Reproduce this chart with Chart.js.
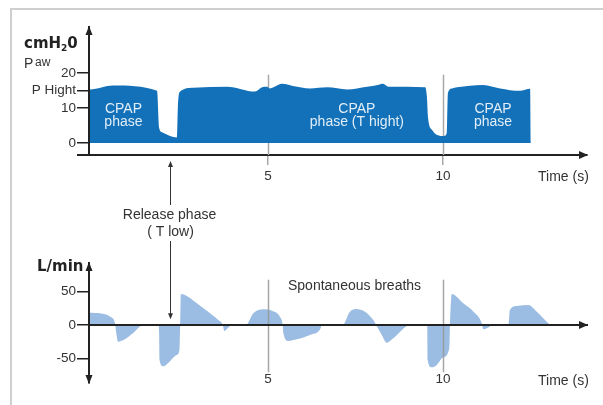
<!DOCTYPE html>
<html><head><meta charset="utf-8">
<script src="https://cdn.jsdelivr.net/npm/chart.js@4/dist/chart.umd.min.js"></script>
<style>
html,body{margin:0;padding:0;background:#fff;width:603px;height:405px;overflow:hidden;}
#frame{position:absolute;left:10px;top:8px;width:700px;height:500px;border-left:2px solid #cfcfcf;border-top:2px solid #cfcfcf;}
canvas{position:absolute;left:0;top:0;}
</style></head><body>
<div id="frame"></div>
<canvas id="c1" width="603" height="405"></canvas>
<canvas id="c2" width="603" height="405"></canvas>
<script>
// ---- data ----
const X_TICKS = [5, 10];
const P_TICKS = [0, 10, 15, 20];
const P_TICK_LABELS = ['0', '10', 'P Hight', '20'];
const F_TICKS = [-50, 0, 50];
const F_TICK_LABELS = ['-50', '0', '50'];

const PRESS_T = [-0.09, -0.09, 0.57, 1.83, 1.89, 1.97, 2.40, 2.43, 2.49, 2.86, 3.83, 4.63, 4.83, 4.97, 5.06, 5.40, 5.71, 6.20, 6.69, 7.26, 7.83, 8.14, 8.29, 8.43, 9.49, 9.54, 9.57, 9.69, 9.83, 10.03, 10.11, 10.14, 10.26, 10.40, 11.14, 11.63, 12.20, 12.49, 12.51];
const PRESS   = [0, 15.3, 16.4, 14.9, 4.3, 3.1, 1.6, 11.4, 14.7, 15.8, 16.1, 14.7, 15.9, 16.1, 15.6, 16.9, 16.3, 15.6, 15.9, 15.3, 16.1, 16.6, 16.9, 16.1, 15.9, 13.2, 7.5, 3.7, 2.3, 2.0, 2.9, 14.3, 15.6, 15.9, 16.6, 15.6, 14.9, 15.5, 0];

const FLOW_T = [-0.09, 0.20, 0.49, 0.63, 0.66, 0.72, 0.91, 1.14, 1.43, 1.87, 1.89, 1.90, 2.01, 2.15, 2.39, 2.47, 2.49, 2.51, 2.68, 2.91, 3.29, 3.58, 3.71, 3.75, 3.89, 3.97, 4.37, 4.58, 4.87, 5.11, 5.34, 5.42, 5.44, 5.58, 5.82, 6.20, 6.49, 6.54, 7.13, 7.34, 7.53, 7.77, 8.01, 8.09, 8.25, 8.39, 8.58, 9.06, 9.55, 9.56, 9.68, 9.82, 10.01, 10.18, 10.20, 10.25, 10.58, 10.87, 11.11, 11.15, 11.25, 11.44, 11.87, 11.91, 12.11, 12.44, 12.68, 13.01, 13.06];
const FLOW   = [18.5, 17.5, 12.5, 2.5, -10, -25, -21.5, -12.5, 0, 0, -12, -52, -62, -57, -45, -37.5, 0, 46.5, 43.5, 35, 20, 7.5, 0, -9, -2.5, 0, 0, 17.5, 23.5, 21.5, 12.5, 0, -12.5, -24, -21.5, -15, -6.5, 0, 0, 20, 24, 20, 7.5, 0, -15, -26.5, -20, 0, 0, -52.5, -63.5, -60, -48.5, -35, 0, 46.5, 32.5, 20, 2.5, -6.5, -5, 0, 0, 22.5, 28.5, 30, 20, 2.5, 0];

const X_MIN = -0.114, X_MAX = 14.114;

// ---- styling ----
const FONT = '"Liberation Sans", Arial, Helvetica, sans-serif';
const BOLD = '"DejaVu Sans", "Liberation Sans", Arial, sans-serif';
const AX = '#222';
const TXT = '#333';
const LBL = '14px ' + FONT;
Chart.defaults.font.family = FONT;
Chart.defaults.font.size = 13.5;
Chart.defaults.color = TXT;

function tri(ctx, a, b, c) {
  ctx.beginPath(); ctx.moveTo(a[0], a[1]); ctx.lineTo(b[0], b[1]); ctx.lineTo(c[0], c[1]); ctx.closePath(); ctx.fill();
}
function vline(ctx, x, y1, y2, color, w) {
  ctx.save(); ctx.strokeStyle = color; ctx.lineWidth = w;
  ctx.beginPath(); ctx.moveTo(x, y1); ctx.lineTo(x, y2); ctx.stroke(); ctx.restore();
}
function txt(ctx, s, x, y, font, color, align) {
  ctx.save(); ctx.font = font; ctx.fillStyle = color; ctx.textAlign = align || 'left'; ctx.textBaseline = 'middle';
  ctx.fillText(s, x, y); ctx.restore();
}

const pts = (xs, ys) => xs.map((t, i) => ({x: t, y: ys[i]}));

// ---- top chart: airway pressure ----
const topDeco = {
  id: 'topDeco',
  beforeDatasetsDraw(chart) {
    const {ctx, scales: {x, y}, chartArea} = chart;
    X_TICKS.forEach(v => {
      const px = Math.round(x.getPixelForValue(v)) + 0.5;
      vline(ctx, px, y.getPixelForValue(19.5), chartArea.bottom, '#a8a8a8', 1.5);
    });
  },
  afterDraw(chart) {
    const {ctx, scales: {x, y}, chartArea: ca} = chart;
    ctx.save();
    ctx.fillStyle = AX; ctx.strokeStyle = AX; ctx.lineWidth = 2;
    ctx.beginPath(); ctx.moveTo(ca.left - 12, ca.bottom); ctx.lineTo(ca.left, ca.bottom); ctx.stroke();
    tri(ctx, [ca.left, ca.top - 1], [ca.left - 3.5, ca.top + 8], [ca.left + 3.5, ca.top + 8]);
    tri(ctx, [ca.right + 1, ca.bottom], [ca.right - 8, ca.bottom - 4], [ca.right - 8, ca.bottom + 4]);
    ctx.textBaseline = 'alphabetic'; ctx.textAlign = 'left';
    ctx.font = 'bold 15px ' + BOLD;
    let xx = 24; ctx.fillText('cmH', xx, 48); xx += ctx.measureText('cmH').width;
    ctx.font = 'bold 9px ' + BOLD; ctx.fillText('2', xx, 51); xx += ctx.measureText('2').width;
    ctx.font = 'bold 15px ' + BOLD; ctx.fillText('0', xx, 48);
    ctx.fillStyle = TXT;
    ctx.font = '14px ' + FONT; ctx.fillText('P', 24, 68);
    ctx.font = '12px ' + FONT; ctx.fillText('aw', 35, 66);
    ctx.restore();
    txt(ctx, 'Time (s)', 538, 177, LBL, TXT);
    const wc = 'rgba(255,255,255,0.88)', f = '14px ' + FONT;
    [[0.87, 'CPAP', 'phase'], [7.54, 'CPAP', 'phase (T hight)'], [11.43, 'CPAP', 'phase']].forEach(([t, a, b]) => {
      const px = x.getPixelForValue(t);
      txt(ctx, a, px, y.getPixelForValue(9.7), f, wc, 'center');
      txt(ctx, b, px, y.getPixelForValue(6.0), f, wc, 'center');
    });
  }
};

new Chart(document.getElementById('c1'), {
  type: 'line',
  data: { datasets: [{ data: pts(PRESS_T, PRESS), fill: 'origin', backgroundColor: '#1271b9',
    borderWidth: 0, pointRadius: 0, cubicInterpolationMode: 'monotone' }] },
  options: {
    responsive: false, animation: false, devicePixelRatio: 1,
    layout: { padding: { left: 0, right: 16, top: 27, bottom: 210 } },
    plugins: { legend: { display: false }, tooltip: { enabled: false } },
    scales: {
      x: { type: 'linear', min: X_MIN, max: X_MAX, position: 'bottom',
        afterBuildTicks: s => { s.ticks = X_TICKS.map(v => ({value: v})); },
        afterFit: s => { s.height = 40; },
        ticks: { padding: 3, maxRotation: 0, autoSkip: false, color: TXT },
        grid: { drawOnChartArea: false, drawTicks: true, tickLength: 10, color: '#a8a8a8', lineWidth: 1.5 },
        border: { display: true, color: AX, width: 2 } },
      y: { type: 'linear', min: -3.43, max: 33.14,
        afterBuildTicks: s => { s.ticks = P_TICKS.map(v => ({value: v})); },
        afterFit: s => { s.width = 89; },
        ticks: { padding: 1, color: TXT, callback: v => P_TICK_LABELS[P_TICKS.indexOf(v)] },
        grid: { drawOnChartArea: false, tickLength: 12, color: AX, lineWidth: 1.5 },
        border: { color: AX, width: 2 } }
    }
  },
  plugins: [topDeco]
});

// ---- bottom chart: flow ----
const botDeco = {
  id: 'botDeco',
  afterDatasetsDraw(chart) {
    const {ctx, scales: {x, y}} = chart;
    X_TICKS.forEach(v => {
      const px = Math.round(x.getPixelForValue(v)) + 0.5;
      vline(ctx, px, y.getPixelForValue(68), y.getPixelForValue(-71), 'rgba(150,150,150,0.85)', 1.5);
    });
  },
  afterDraw(chart) {
    const {ctx, scales: {x, y}, chartArea: ca} = chart;
    const y0 = y.getPixelForValue(0);
    ctx.save();
    ctx.fillStyle = AX;
    tri(ctx, [ca.left, ca.top - 1], [ca.left - 3.5, ca.top + 8], [ca.left + 3.5, ca.top + 8]);
    tri(ctx, [ca.left, ca.bottom + 1], [ca.left - 3.5, ca.bottom - 8], [ca.left + 3.5, ca.bottom - 8]);
    tri(ctx, [ca.right + 1, y0], [ca.right - 8, y0 - 4], [ca.right - 8, y0 + 4]);
    ctx.restore();
    txt(ctx, 'L/min', 37, 267, 'bold 15px ' + BOLD, AX);
    txt(ctx, 'Spontaneous breaths', 288, 286, LBL, TXT);
    txt(ctx, 'Time (s)', 538, 381, LBL, TXT);
    const ax = Math.round(x.getPixelForValue(2.2)) + 0.5;
    txt(ctx, 'Release phase', ax - 1, 215, LBL, TXT, 'center');
    txt(ctx, '( T low)', ax, 232, LBL, TXT, 'center');
    vline(ctx, ax, 166, 205, '#333', 1);
    vline(ctx, ax, 241, y.getPixelForValue(10) - 4, '#333', 1);
    ctx.save(); ctx.fillStyle = '#333';
    tri(ctx, [ax, 161], [ax - 2.5, 167], [ax + 2.5, 167]);
    const tip = y.getPixelForValue(10);
    tri(ctx, [ax, tip + 1], [ax - 2.5, tip - 5], [ax + 2.5, tip - 5]);
    ctx.restore();
  }
};

new Chart(document.getElementById('c2'), {
  type: 'line',
  data: { datasets: [{ data: pts(FLOW_T, FLOW), fill: 'origin', backgroundColor: '#9bbde3',
    borderWidth: 0, pointRadius: 0, cubicInterpolationMode: 'monotone' }] },
  options: {
    responsive: false, animation: false, devicePixelRatio: 1,
    layout: { padding: { left: 0, right: 16, top: 263, bottom: 22 } },
    plugins: { legend: { display: false }, tooltip: { enabled: false } },
    scales: {
      x: { type: 'linear', min: X_MIN, max: X_MAX, position: { y: 0 },
        afterBuildTicks: s => { s.ticks = X_TICKS.map(v => ({value: v})); },
        ticks: { padding: 46, maxRotation: 0, autoSkip: false, color: TXT },
        grid: { display: false, drawTicks: false },
        border: { display: true, color: AX, width: 2, z: 1 } },
      y: { type: 'linear', min: -87, max: 93,
        afterBuildTicks: s => { s.ticks = F_TICKS.map(v => ({value: v})); },
        afterFit: s => { s.width = 89; },
        ticks: { padding: 1, color: TXT, callback: v => F_TICK_LABELS[F_TICKS.indexOf(v)] },
        grid: { drawOnChartArea: false, tickLength: 12, color: AX, lineWidth: 1.5 },
        border: { color: AX, width: 2, z: 1 } }
    }
  },
  plugins: [botDeco]
});
</script></body></html>
